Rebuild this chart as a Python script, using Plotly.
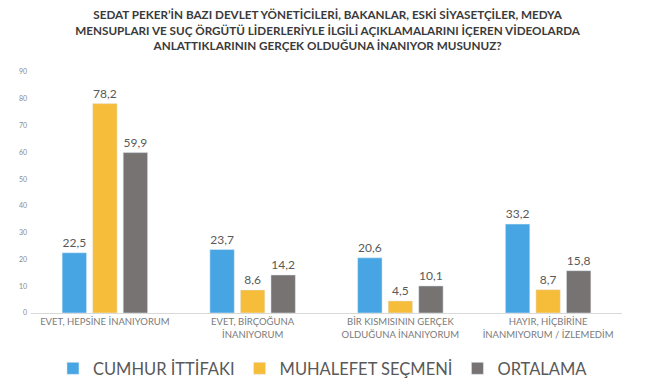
import plotly.graph_objects as go

categories = ["EVET, HEPSİNE İNANIYORUM", "EVET, BİRÇOĞUNA<br>İNANIYORUM",
              "BİR KISMISININ GERÇEK<br>OLDUĞUNA İNANIYORUM", "HAYIR, HİÇBİRİNE<br>İNANMIYORUM / İZLEMEDİM"]
cumhur = [22.5, 23.7, 20.6, 33.2]
muhalefet = [78.2, 8.6, 4.5, 8.7]
ortalama = [59.9, 14.2, 10.1, 15.8]
series_names = ["CUMHUR İTTİFAKI", "MUHALEFET SEÇMENİ", "ORTALAMA"]
colors = ["#48A5E3", "#F5BD3A", "#767372"]
y_ticks = [0, 10, 20, 30, 40, 50, 60, 70, 80, 90]

def fmt(v):
    return f"{v:.1f}".replace(".", ",")

fig = go.Figure()
for name, vals, col in zip(series_names, [cumhur, muhalefet, ortalama], colors):
    fig.add_trace(go.Bar(
        x=categories, y=vals, name=name, marker_color=col,
        text=[fmt(v) for v in vals], textposition="outside", cliponaxis=False,
        textfont=dict(size=12, color="#595959", family="Lato"),
    ))

fig.update_layout(
    width=647, height=377,
    margin=dict(l=23, r=33, t=64, b=72, autoexpand=False),
    paper_bgcolor="white", plot_bgcolor="white",
    barmode="group", bargap=0.38, bargroupgap=0.2,
    font=dict(family="Lato", color="#595959"),
    title=dict(
        text="SEDAT PEKER’İN BAZI DEVLET YÖNETİCİLERİ, BAKANLAR, ESKİ SİYASETÇİLER, MEDYA<br>"
             "MENSUPLARI VE SUÇ ÖRGÜTÜ LİDERLERİYLE İLGİLİ AÇIKLAMALARINI İÇEREN VİDEOLARDA<br>"
             "ANLATTIKLARININ GERÇEK OLDUĞUNA İNANIYOR MUSUNUZ?",
        x=0.494, xanchor="center", y=0.97, yanchor="top", pad=dict(t=0),
        font=dict(family="Lato", size=11.7, color="#3a3a3a", weight="bold"),
    ),
    xaxis=dict(showline=True, linecolor="#d9d9d9", linewidth=1, ticks="",
               tickfont=dict(size=9.5, color="#7a7a7a", family="Lato"), showgrid=False),
    yaxis=dict(range=[0, 90], tickvals=y_ticks, showgrid=False, zeroline=False,
               showline=False, tickfont=dict(size=7, color="#8a8a8a", family="Lato"),
               ticklabelstandoff=3),
    legend=dict(orientation="h", x=0.494, xanchor="center", y=-0.158, yanchor="top",
                font=dict(size=16.5, color="#595959", family="Lato"),
                itemwidth=30, traceorder="normal"),
)

fig.write_html("out.html")
